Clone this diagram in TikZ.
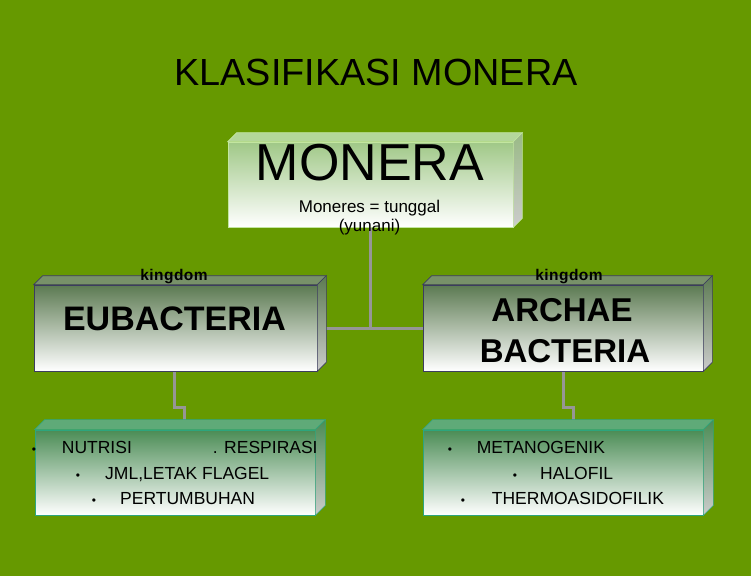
\documentclass[tikz,border=0pt]{standalone}
\usepackage{fontspec}
\setmainfont{Liberation Sans}
\definecolor{bg}{RGB}{102,153,0}
\definecolor{linegray}{RGB}{150,150,150}
\definecolor{toprow}{RGB}{92,122,82}
\definecolor{toprowtop}{RGB}{120,145,105}
\definecolor{toprowbord}{RGB}{60,60,95}
\definecolor{monfront}{RGB}{160,200,135}
\definecolor{montop}{RGB}{180,215,155}
\definecolor{monbord}{RGB}{195,230,160}
\definecolor{botfront}{RGB}{75,140,85}
\definecolor{bottop}{RGB}{95,170,120}
\definecolor{botbord}{RGB}{45,165,125}
\newcommand{\fs}[1]{\fontsize{#1}{#1}\selectfont}
\tikzset{
  txt/.style={inner sep=0pt, text=black},
  conn/.style={draw=linegray, line width=3pt},
  frontA/.style={draw=toprowbord, line width=0.6pt, minimum width=283pt, minimum height=86pt, inner sep=0pt,
     top color=toprow, middle color=toprow!22!white, bottom color=white},
  frontM/.style={draw=monbord, line width=0.6pt, minimum width=285pt, minimum height=85pt, inner sep=0pt,
     top color=monfront, middle color=monfront!35!white, bottom color=white},
  frontB/.style={draw=botbord, line width=0.8pt, minimum width=280pt, minimum height=85pt, inner sep=0pt,
     top color=botfront, middle color=botfront!25!white, bottom color=white},
}
\newcommand{\faces}[5]{%
  \filldraw[fill=#3, draw=#4, line width=0.6pt] (#1.north west) -- ([shift={(#2,-#2)}]#1.north west)
     -- ([shift={(#2,-#2)}]#1.north east) -- (#1.north east) -- cycle;
  \shade[top color=#5, bottom color=gray!40!white, draw=#4, line width=0.6pt] (#1.north east) -- ([shift={(#2,-#2)}]#1.north east)
     -- ([shift={(#2,-#2)}]#1.south east) -- (#1.south east) -- cycle;
}
\begin{document}
\begin{tikzpicture}[x=1pt, y=-1pt]
\useasboundingbox (0,0) rectangle (751,576);
\fill[bg] (0,0) rectangle (751,576);

% boxes (front faces)
\node[frontM] (monera) at (370.5,184.5) {};
\node[frontA] (eu) at (175.5,328) {};
\node[frontA, minimum width=280pt] (ar) at (563,328) {};
\node[frontB] (eul) at (175,472.5) {};
\node[frontB] (arl) at (563,472.5) {};

% connectors
\coordinate (junction) at (monera.south |- eu.east);
\draw[conn] (monera.south) -- (junction);
\draw[conn] (eu.east) -- (ar.west);
\draw[conn] ([xshift=-1.5pt]eu.south) -- ++(0,36) -| ([shift={(9,-10)}]eul.north);
\draw[conn] (ar.south) -- ++(0,36) -| ([shift={(10,-10)}]arl.north);

% redraw front faces above connectors
\node[frontM] at (monera) {};
\node[frontA] at (eu) {};
\node[frontA, minimum width=280pt] at (ar) {};
\node[frontB] at (eul) {};
\node[frontB] at (arl) {};

\faces{monera}{9}{montop}{monbord}{monfront!80!gray}
\faces{eu}{9}{toprowtop}{toprowbord}{toprow}
\faces{ar}{9}{toprowtop}{toprowbord}{toprow}
\faces{eul}{10}{bottop}{botbord}{botfront}
\faces{arl}{10}{bottop}{botbord}{botfront}

% texts
\node[txt] (title) at (376,72) {\fs{37.8}KLASIFIKASI MONERA};
\node[txt] (mtitle) at (370,163) {\fs{52}MONERA};
\node[txt, anchor=base] (msub1) at (369.5,212.3) {\fs{17}Moneres = tunggal};
\node[txt, anchor=base] (msub2) at (369.5,231) {\fs{17}(yunani)};

\node[txt, anchor=base] (k1) at (174,280.7) {\fs{15.5}\addfontfeature{LetterSpace=3}\bfseries kingdom};
\node[txt, anchor=base] (k2) at (569,280.7) {\fs{15.5}\addfontfeature{LetterSpace=3}\bfseries kingdom};

\node[txt, anchor=base] (eut) at (174.5,330.7) {\fs{34}\bfseries EUBACTERIA};
\node[txt, anchor=base] (art1) at (562,321.7) {\fs{33}\bfseries ARCHAE};
\node[txt, anchor=base] (art2) at (565,362.7) {\fs{33}\bfseries BACTERIA};

% left list
\node[txt, anchor=base] (b1) at (34,453.3) {\fs{12}•};
\node[txt, anchor=base west] (l1a) at (61.7,453.3) {\fs{17.5}NUTRISI};
\node[txt, anchor=base west] (l1b) at (212.7,453.3) {\fs{17.5}. RESPIRASI};
\node[txt, anchor=base] (b2) at (78,479) {\fs{12}•};
\node[txt, anchor=base west] (l2) at (105,479) {\fs{17.5}JML,LETAK FLAGEL};
\node[txt, anchor=base] (b3) at (94,504.5) {\fs{12}•};
\node[txt, anchor=base west] (l3) at (120,504.5) {\fs{17.5}PERTUMBUHAN};

% right list
\node[txt, anchor=base] (r1b) at (450,453.3) {\fs{12}•};
\node[txt, anchor=base west] (r1) at (476.7,453.3) {\fs{17.5}METANOGENIK};
\node[txt, anchor=base] (r2b) at (515,479) {\fs{12}•};
\node[txt, anchor=base west] (r2) at (540,479) {\fs{17.5}HALOFIL};
\node[txt, anchor=base] (r3b) at (463,504.5) {\fs{12}•};
\node[txt, anchor=base west] (r3) at (491.7,504.5) {\fs{17.5}THERMOASIDOFILIK};
\end{tikzpicture}
\end{document}
